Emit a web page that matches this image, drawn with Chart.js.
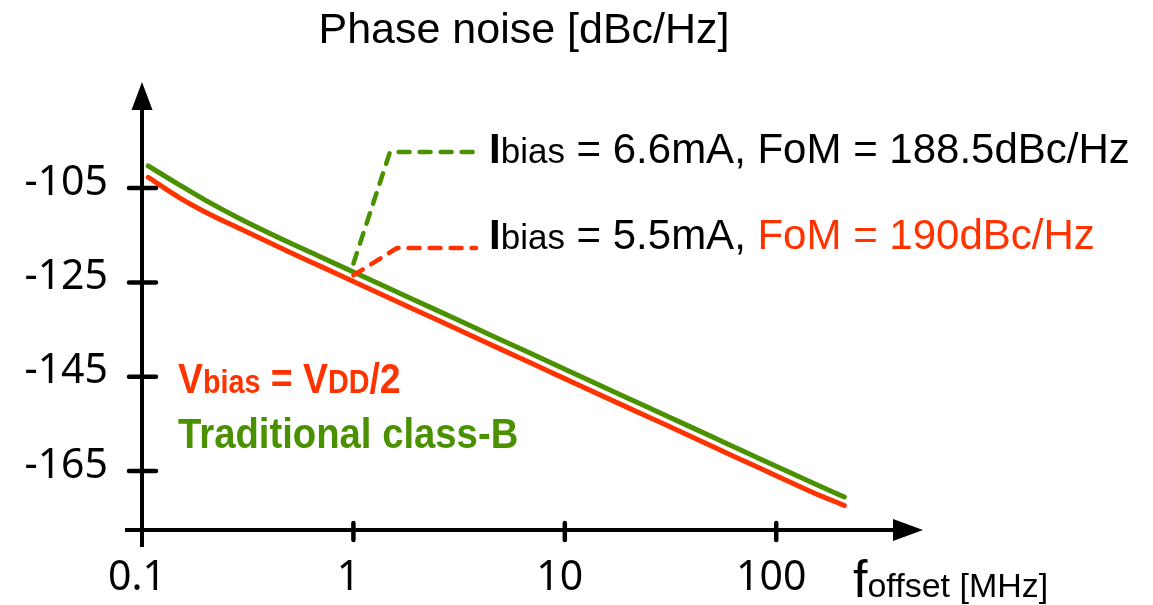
<!DOCTYPE html>
<html>
<head>
<meta charset="utf-8">
<title>Phase noise</title>
<script src="https://cdn.jsdelivr.net/npm/chart.js@4.4.1/dist/chart.umd.min.js"></script>
<style>
  html, body { margin: 0; padding: 0; background: #fff; }
  #wrap { width: 1153px; height: 605px; }
</style>
</head>
<body>
<div id="wrap"><canvas id="pn"></canvas></div>
<script>
// offset frequency [MHz] and phase noise [dBc/Hz]
const freqs  = [0.107, 0.15, 0.2, 0.3, 0.5, 0.7, 1, 2, 3, 5, 7, 10, 20, 30, 50, 70, 100, 150, 210];
const classB = [-100.3, -104.3, -107.6, -111.8, -116.6, -119.6, -122.8, -129.0, -132.6, -137.2, -140.2, -143.4, -149.6, -153.2, -157.8, -160.8, -164.0, -167.6, -170.5];
const vbias  = [-102.7, -107.0, -110.1, -113.9, -118.6, -121.6, -124.8, -131.0, -134.6, -139.2, -142.2, -145.4, -151.6, -155.2, -159.8, -162.8, -166.0, -169.6, -172.3];

const xTicks = [0.1, 1, 10, 100];
const yTicks = [-165, -145, -125, -105];

// where the two call-out leaders touch the curves (f = 1 MHz)
const calloutF = 1;
const calloutGreen = -121;
const calloutRed = -123.5;

const GREEN = '#4a9100';
const RED = '#ff3300';

const toXY = arr => freqs.map((f, i) => ({ x: f, y: arr[i] }));

// write a run of differently sized pieces on one baseline
function drawRuns(ctx, x, y, runs, sx) {
  ctx.save();
  ctx.translate(x, y);
  ctx.scale(sx || 1, 1);
  ctx.textAlign = 'left';
  ctx.textBaseline = 'alphabetic';
  let cx = 0;
  runs.forEach(r => {
    ctx.font = r.font;
    ctx.fillStyle = r.color;
    ctx.fillText(r.text, cx, 0);
    cx += ctx.measureText(r.text).width;
  });
  ctx.restore();
}

const arrowAxes = {
  id: 'arrowAxes',
  afterDatasetsDraw(chart) {
    const { ctx, chartArea: a, scales: { x, y } } = chart;
    const x0 = a.left, y0 = a.bottom;
    ctx.save();
    ctx.strokeStyle = '#000';
    ctx.fillStyle = '#000';
    ctx.lineWidth = 4;
    ctx.lineCap = 'butt';

    // vertical axis, sticks out a bit below the horizontal one
    ctx.beginPath();
    ctx.moveTo(x0, y0 + 17);
    ctx.lineTo(x0, a.top + 26);
    ctx.stroke();
    ctx.beginPath();
    ctx.moveTo(x0, a.top);
    ctx.lineTo(x0 - 10.5, a.top + 28);
    ctx.lineTo(x0 + 10.5, a.top + 28);
    ctx.closePath();
    ctx.fill();

    // horizontal axis
    ctx.beginPath();
    ctx.moveTo(x0 - 17, y0);
    ctx.lineTo(a.right - 28, y0);
    ctx.stroke();
    ctx.beginPath();
    ctx.moveTo(a.right - 1, y0);
    ctx.lineTo(a.right - 31, y0 - 11);
    ctx.lineTo(a.right - 31, y0 + 11);
    ctx.closePath();
    ctx.fill();

    // tick marks crossing the axes
    ctx.lineCap = 'round';
    ctx.lineWidth = 4.5;
    yTicks.forEach(v => {
      const py = y.getPixelForValue(v);
      ctx.beginPath();
      ctx.moveTo(x0 - 13, py);
      ctx.lineTo(x0 + 14, py);
      ctx.stroke();
    });
    xTicks.slice(1).forEach(v => {
      const px = x.getPixelForValue(v);
      ctx.beginPath();
      ctx.moveTo(px, y0 - 7);
      ctx.lineTo(px, y0 + 10);
      ctx.stroke();
    });
    ctx.restore();
  },
  afterDraw(chart) {
    const { ctx, scales: { x, y } } = chart;
    const sans = '"Liberation Sans", Arial, sans-serif';
    ctx.save();

    // title
    ctx.font = '43px ' + sans;
    ctx.fillStyle = '#000';
    ctx.textAlign = 'center';
    ctx.textBaseline = 'alphabetic';
    ctx.fillText('Phase noise [dBc/Hz]', 524, 43);

    // dashed leaders from the curves to the call-outs
    const ax = x.getPixelForValue(calloutF);
    ctx.lineWidth = 4.5;
    ctx.lineCap = 'round';
    ctx.lineJoin = 'round';
    ctx.setLineDash([11, 10]);
    ctx.strokeStyle = GREEN;
    ctx.beginPath();
    ctx.moveTo(ax, y.getPixelForValue(calloutGreen));
    ctx.lineTo(390, 152);
    ctx.lineTo(476, 152);
    ctx.stroke();
    ctx.strokeStyle = RED;
    ctx.beginPath();
    ctx.moveTo(ax, y.getPixelForValue(calloutRed));
    ctx.lineTo(397, 248);
    ctx.lineTo(476, 248);
    ctx.stroke();
    ctx.setLineDash([]);

    const big = '42px ' + sans, sub = '35px ' + sans, bigI = 'bold 42px ' + sans;
    drawRuns(ctx, 489, 163, [
      { text: 'I', font: bigI, color: '#000' },
      { text: 'bias', font: sub, color: '#000' },
      { text: ' = 6.6mA, FoM = 188.5dBc/Hz', font: big, color: '#000' }
    ]);
    drawRuns(ctx, 489, 249, [
      { text: 'I', font: bigI, color: '#000' },
      { text: 'bias', font: sub, color: '#000' },
      { text: ' = 5.5mA, ', font: big, color: '#000' },
      { text: 'FoM = 190dBc/Hz', font: big, color: RED }
    ]);

    // series names, condensed bold
    const bb = 'bold 43px ' + sans, bs = 'bold 33px ' + sans;
    drawRuns(ctx, 178, 393, [
      { text: 'V', font: bb, color: RED },
      { text: 'bias', font: bs, color: RED },
      { text: ' = V', font: bb, color: RED },
      { text: 'DD', font: bs, color: RED },
      { text: '/2', font: bb, color: RED }
    ], 0.87);
    drawRuns(ctx, 178, 448, [
      { text: 'Traditional class-B', font: bb, color: GREEN }
    ], 0.89);

    // horizontal axis title
    drawRuns(ctx, 853, 597, [
      { text: 'f', font: '52px ' + sans, color: '#000' },
      { text: 'offset [MHz]', font: '34px ' + sans, color: '#000' }
    ]);
    ctx.restore();
  }
};

const tickFont = { family: '"Noto Sans", "Open Sans", sans-serif', size: 41 };

new Chart(document.getElementById('pn'), {
  type: 'line',
  data: {
    datasets: [
      {
        label: 'Traditional class-B',
        data: toXY(classB),
        borderColor: GREEN,
        borderWidth: 5,
        borderCapStyle: 'round',
        pointRadius: 0,
        cubicInterpolationMode: 'monotone'
      },
      {
        label: 'Vbias = VDD/2',
        data: toXY(vbias),
        borderColor: RED,
        borderWidth: 5,
        borderCapStyle: 'round',
        pointRadius: 0,
        cubicInterpolationMode: 'monotone'
      }
    ]
  },
  options: {
    responsive: true,
    maintainAspectRatio: false,
    animation: false,
    layout: { padding: { top: 82, right: 229, left: 0, bottom: 0 } },
    plugins: { legend: { display: false }, tooltip: { enabled: false } },
    scales: {
      x: {
        type: 'logarithmic',
        min: 0.1,
        max: 500,
        grid: { display: false, drawTicks: false },
        border: { display: false },
        afterBuildTicks: s => { s.ticks = xTicks.map(v => ({ value: v })); },
        afterFit: s => { s.height = 75; },
        ticks: {
          autoSkip: false,
          maxRotation: 0,
          padding: 24,
          labelOffset: -5,
          color: '#000',
          font: tickFont,
          callback: v => String(v)
        }
      },
      y: {
        type: 'linear',
        min: -177.5,
        max: -82.5,
        grid: { display: false, drawTicks: false },
        border: { display: false },
        afterBuildTicks: s => { s.ticks = yTicks.map(v => ({ value: v })); },
        afterFit: s => { s.width = 142; },
        ticks: {
          autoSkip: false,
          padding: 34,
          labelOffset: -5,
          color: '#000',
          font: tickFont,
          callback: v => String(v)
        }
      }
    }
  },
  plugins: [arrowAxes]
});
</script>
</body>
</html>
